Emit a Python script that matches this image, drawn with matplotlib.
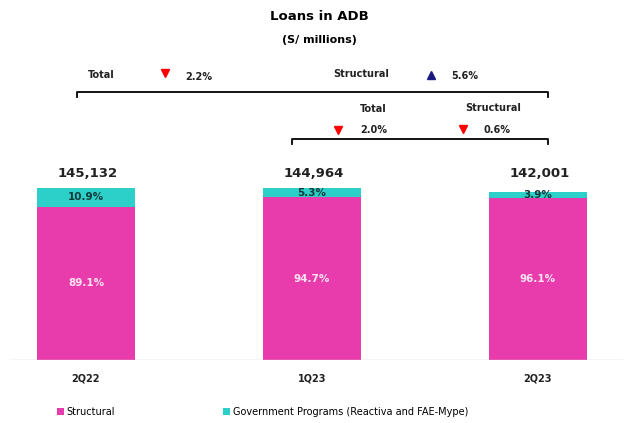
import matplotlib
matplotlib.use("Agg")
import matplotlib.pyplot as plt

# data
quarters = ["2Q22", "1Q23", "2Q23"]
totals = [145132, 144964, 142001]
structural_pct = [89.1, 94.7, 96.1]
government_pct = [10.9, 5.3, 3.9]
total_labels = ["145,132", "144,964", "142,001"]

MAGENTA = "#E83CAC"
CYAN = "#2DD0C8"

W, H = 633, 423
fig = plt.figure(figsize=(W / 100, H / 100), dpi=100)

# main bar axes, placed by pixel geometry
x0_px, step_px = 86, 226
left_px, right_px = 10, 623
bottom_px, top_px = 63, 273
ax = fig.add_axes([left_px / W, bottom_px / H, (right_px - left_px) / W, (top_px - bottom_px) / H])
ax.set_xlim((left_px - x0_px) / step_px, (right_px - x0_px) / step_px)
ax.set_ylim(0, 145132 * (top_px - bottom_px) / 172)

xs = list(range(len(quarters)))
struct_vals = [t * p / 100 for t, p in zip(totals, structural_pct)]
gov_vals = [t - s for t, s in zip(totals, struct_vals)]

b1 = ax.bar(xs, struct_vals, width=0.43, color=MAGENTA, label="Structural")
b2 = ax.bar(xs, gov_vals, width=0.43, bottom=struct_vals, color=CYAN,
            label="Government Programs (Reactiva and FAE-Mype)")

for x, s, g, sp, gp in zip(xs, struct_vals, gov_vals, structural_pct, government_pct):
    ax.text(x, s / 2, f"{sp}%", ha="center", va="center", color="#FBE3F2",
            fontsize=7.5, fontweight="bold")
    ax.text(x, s + g / 2, f"{gp}%", ha="center", va="center", color="#123B3B",
            fontsize=7.5, fontweight="bold")

# totals sit on one line above the bars, quarter names under the baseline
for x, lab, q in zip(xs, total_labels, quarters):
    ax.annotate(lab, (x, 0), xytext=(2, 187), textcoords="offset pixels",
                ha="center", va="center", fontsize=9.5, fontweight="bold", color="#222222")
    ax.text(x, -0.09, q, transform=ax.get_xaxis_transform(),
            ha="center", va="center", fontsize=7, fontweight="bold", color="#222222")

for s in ax.spines.values():
    s.set_visible(False)
ax.set_xticks([])
ax.set_yticks([])
ax.axhline(0, color="#D0D0D0", lw=1)

# overlay in pixel coordinates for title and brackets
ov = fig.add_axes([0, 0, 1, 1], facecolor="none")
ov.set_xlim(0, W)
ov.set_ylim(H, 0)
ov.axis("off")

ov.text(319, 17, "Loans in ADB", ha="center", va="center", fontsize=9.5, fontweight="bold")
ov.text(319, 40, "(S/ millions)", ha="center", va="center", fontsize=8, fontweight="bold")

def bracket(x1, x2, y, drop=5):
    ov.plot([x1, x1, x2, x2], [y + drop, y, y, y + drop], color="black", lw=1.3,
            solid_joinstyle="round")

bracket(77, 548, 92)
bracket(292, 548, 139)

txt = dict(fontsize=7, fontweight="bold", va="center", color="#222222")
ov.text(88, 75, "Total", ha="left", **txt)
ov.plot(165, 73, marker="v", color="red", ms=6)
ov.text(185, 77, "2.2%", ha="left", **txt)
ov.text(333, 74, "Structural", ha="left", **txt)
ov.plot(431, 75, marker="^", color="#1A1A80", ms=6)
ov.text(451, 76, "5.6%", ha="left", **txt)

ov.text(373, 109, "Total", ha="center", **txt)
ov.plot(338, 130, marker="v", color="red", ms=6)
ov.text(360, 130, "2.0%", ha="left", **txt)
ov.text(493, 108, "Structural", ha="center", **txt)
ov.plot(463, 129, marker="v", color="red", ms=6)
ov.text(483, 130, "0.6%", ha="left", **txt)

fig.legend(handles=[b1, b2], loc="center left", bbox_to_anchor=(48 / W, 1 - 412 / H),
           ncol=2, frameon=False, fontsize=7, handlelength=0.7, handleheight=0.7,
           handletextpad=0.3, columnspacing=11.1)

fig.savefig("out.png", dpi=100)
